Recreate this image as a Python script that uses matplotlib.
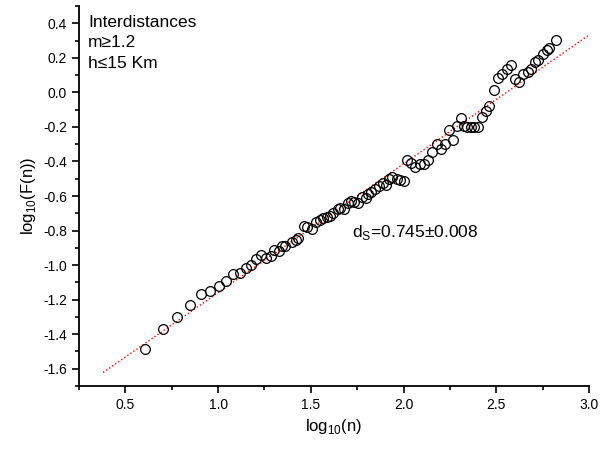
import matplotlib
matplotlib.use('Agg')
from matplotlib import pyplot as plt
from matplotlib.ticker import MultipleLocator

plt.rcParams['font.family'] = ['Liberation Sans', 'DejaVu Sans']
plt.rcParams['mathtext.fontset'] = 'custom'
plt.rcParams['mathtext.rm'] = 'Liberation Sans'

# log10(n), log10(F(n))
log_n = [0.604, 0.701, 0.780, 0.846, 0.906, 0.956, 1.003, 1.044, 1.080, 1.116,
         1.148, 1.178, 1.206, 1.233, 1.260, 1.284, 1.303, 1.326, 1.342, 1.362,
         1.400, 1.421, 1.432, 1.462, 1.478, 1.506, 1.529, 1.547, 1.565, 1.587,
         1.605, 1.622, 1.644, 1.658, 1.680, 1.698, 1.716, 1.734, 1.752, 1.778,
         1.800, 1.808, 1.824, 1.847, 1.868, 1.888, 1.906, 1.922, 1.940, 1.964,
         1.982, 2.001, 2.021, 2.039, 2.062, 2.086, 2.111, 2.134, 2.152, 2.179,
         2.201, 2.224, 2.247, 2.266, 2.287, 2.309, 2.326, 2.344, 2.363, 2.380,
         2.402, 2.422, 2.445, 2.463, 2.488, 2.511, 2.533, 2.556, 2.578, 2.601,
         2.623, 2.646, 2.670, 2.688, 2.709, 2.727, 2.750, 2.772, 2.786, 2.820]
log_F = [-1.484, -1.372, -1.299, -1.229, -1.167, -1.152, -1.123, -1.092, -1.050, -1.043,
         -1.015, -1.000, -0.964, -0.943, -0.961, -0.947, -0.914, -0.916, -0.892, -0.889,
         -0.868, -0.855, -0.841, -0.775, -0.778, -0.790, -0.752, -0.740, -0.730, -0.720,
         -0.713, -0.700, -0.674, -0.669, -0.676, -0.640, -0.626, -0.632, -0.640, -0.603,
         -0.614, -0.588, -0.578, -0.560, -0.540, -0.525, -0.537, -0.502, -0.492, -0.502,
         -0.506, -0.512, -0.392, -0.408, -0.431, -0.412, -0.412, -0.392, -0.346, -0.301,
         -0.330, -0.301, -0.218, -0.276, -0.195, -0.147, -0.195, -0.199, -0.199, -0.203,
         -0.203, -0.141, -0.108, -0.081, 0.015, 0.085, 0.104, 0.133, 0.158, 0.075,
         0.062, 0.106, 0.120, 0.133, 0.178, 0.190, 0.222, 0.246, 0.258, 0.301]

# fitted line (end points)
fit_x = [0.38, 3.0]
fit_y = [-1.622, 0.332]

fig = plt.figure(figsize=(6.1, 4.49), dpi=100)
ax = fig.add_axes([0.1295, 0.1403, 0.8361, 0.8463])

ax.plot(fit_x, fit_y, color='red', linestyle=':', linewidth=1.0)
ax.plot(log_n, log_F, linestyle='none', marker='o', markersize=7,
        markerfacecolor='none', markeredgecolor='black', markeredgewidth=0.9)

ax.set_xlim(0.25, 3.0)
ax.set_ylim(-1.7, 0.5)
ax.xaxis.set_major_locator(MultipleLocator(0.5))
ax.xaxis.set_minor_locator(MultipleLocator(0.25))
ax.yaxis.set_minor_locator(MultipleLocator(0.1))
ax.set_yticks([-1.6, -1.4, -1.2, -1.0, -0.8, -0.6, -0.4, -0.2, 0.0, 0.2, 0.4])
ax.set_yticklabels(['-1.6', '-1.4', '-1.2', '-1.0', '-0.8', '-0.6', '-0.4', '-0.2', '0.0', '0.2', '0.4'])

ax.spines['top'].set_visible(False)
ax.spines['right'].set_visible(False)
ax.spines['left'].set_linewidth(1.3)
ax.spines['bottom'].set_linewidth(1.3)
ax.tick_params(which='major', direction='out', length=5, width=1.2, labelsize=10)
ax.tick_params(which='minor', direction='out', length=3, width=1.2)

ax.set_xlabel(r'log$_{\mathregular{10}}$(n)', fontsize=12)
ax.set_ylabel(r'log$_{\mathregular{10}}$(F(n))', fontsize=12)

ax.text(0.30, 0.448, 'Interdistances\nm\u22651.2\nh\u226415 Km', fontsize=12.5,
        va='top', ha='left', linespacing=1.45)
ax.text(1.72, -0.81, 'd$_{\\mathregular{S}}$=0.745\u00b10.008',
        fontsize=12.5, va='center', ha='left')

fig.savefig('out.png', dpi=100)
plt.close()
